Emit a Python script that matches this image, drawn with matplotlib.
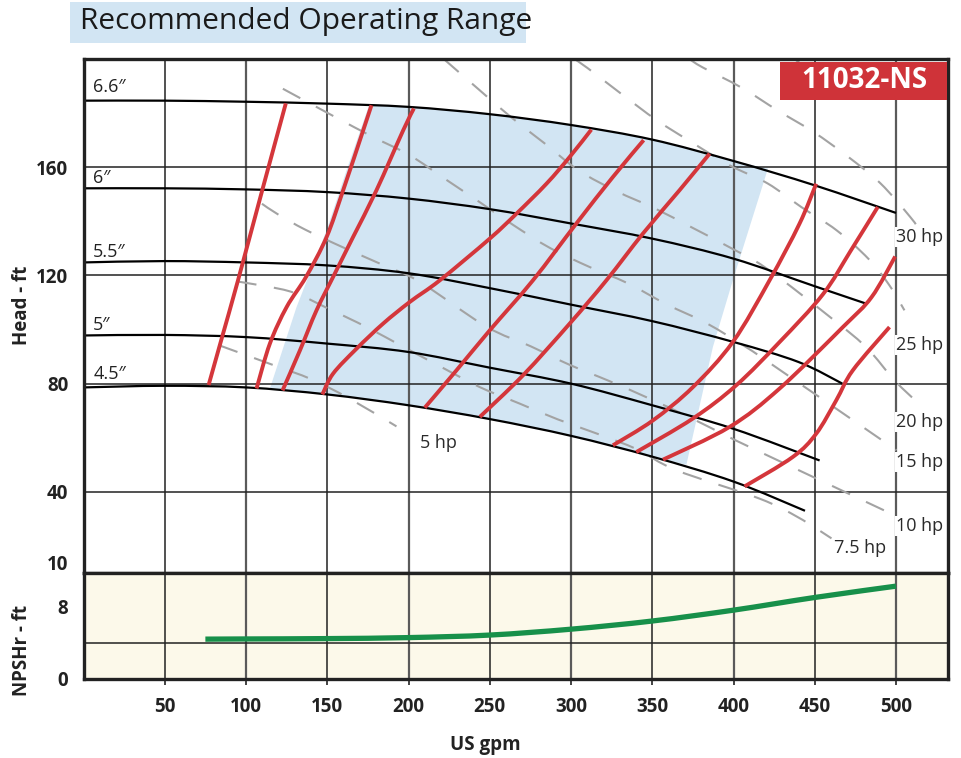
import numpy as np
import matplotlib
matplotlib.use('Agg')
import matplotlib.pyplot as plt
from matplotlib.patches import Rectangle, PathPatch
from matplotlib.path import Path
import matplotlib.transforms as mtransforms

plt.rcParams['font.family'] = ['Open Sans', 'DejaVu Sans']

# ---------------- data ----------------
x_ticks = [50, 100, 150, 200, 250, 300, 350, 400, 450, 500]
head_ticks = [10, 40, 80, 120, 160]
head_grid = [40, 80, 120, 160]
npsh_ticks = [0, 8]
npsh_grid = [4]

# impeller diameter curves (gpm, ft)
d66_q = [0, 50, 100, 150, 200, 250, 300, 350, 400, 450, 500]
d66_h = [184.6, 184.6, 184.2, 183.5, 182.3, 179.6, 175.6, 170.2, 162.3, 153.3, 143.1]
d60_q = [0, 50, 100, 150, 200, 250, 300, 350, 400, 450, 481]
d60_h = [152.2, 152.2, 151.8, 150.8, 148.4, 144.5, 139.2, 133.6, 126.2, 116.0, 109.7]
d55_q = [0, 50, 100, 150, 200, 250, 300, 350, 400, 440, 467]
d55_h = [124.8, 125.3, 124.8, 123.7, 120.8, 115.3, 109.2, 103.1, 95.4, 88.0, 80.0]
d50_q = [0, 50, 100, 150, 200, 250, 300, 350, 400, 453]
d50_h = [97.8, 98.0, 97.2, 94.8, 91.7, 85.9, 80.0, 72.0, 63.3, 51.6]
d45_q = [0, 50, 100, 150, 200, 250, 300, 350, 400, 444]
d45_h = [78.6, 79.2, 78.6, 76.0, 72.0, 66.9, 60.7, 53.0, 43.8, 33.0]
diam_labels = ['6.6\u2033', '6\u2033', '5.5\u2033', '5\u2033', '4.5\u2033']
diam_label_h = [189.5, 156.0, 128.8, 101.5, 83.4]

# red curves
r1_q = [77, 85, 95, 110, 124.5]
r1_h = [79.5, 96.6, 118, 151.5, 183.6]
r2_q = [106.5, 114.7, 125, 137, 149.6, 159.8, 172.1, 177.2]
r2_h = [78.2, 94.8, 108.3, 119.5, 134.2, 151.5, 173.6, 182.9]
r3_q = [122.5, 133.2, 143.4, 154.5, 165.9, 180.3, 196.7, 203.3]
r3_h = [77.5, 92.3, 107.1, 120.5, 134.2, 151.5, 173.6, 181.7]
r4_q = [147, 153.6, 168, 184.4, 200.8, 219.3, 250, 266.4, 284.9, 299.2, 312.5]
r4_h = [76, 83.7, 92.9, 102.2, 110.2, 118.2, 133.6, 142.8, 153.9, 163.8, 173.9]
r5_q = [210, 229.5, 250, 276.6, 303.3, 325.8, 344.7]
r5_h = [71.1, 84.9, 99.7, 118.2, 139.2, 156.4, 170]
r6_q = [243.9, 270.5, 299.2, 321.8, 344.3, 366.8, 385.3]
r6_h = [67.7, 83.1, 102.2, 118.2, 135.5, 151.5, 165]
r7_q = [325.8, 350.4, 375, 399.6, 422.2, 440.6, 450.9]
r7_h = [57.2, 66.4, 78.7, 95.4, 118.2, 139.1, 153.9]
r8_q = [340.2, 375, 401.7, 428.4, 455, 472, 488.8]
r8_h = [54.7, 67.1, 79.4, 95.4, 113, 129, 145.3]
r9_q = [356.6, 397.6, 428.4, 467.3, 485, 499.5]
r9_h = [51.9, 64, 78.2, 100.9, 112, 127]
r10_q = [406.8, 436.5, 450.9, 463.2, 473.4, 496]
r10_h = [42, 52.9, 61.5, 73.8, 84.9, 100.9]

# power lines (dashed)
hp5_q = [83.3, 115.7, 140.3, 163.3, 192.6]
hp5_h = [94.2, 87.1, 81.6, 74.6, 64.2]
hp75_q = [94.4, 127, 150.4, 174.2, 197.1, 220.3, 243.9, 268.5, 291.8, 317, 340.7, 364.8, 416, 440, 460.3]
hp75_h = [117.8, 114.1, 107.8, 100.9, 93.5, 86.1, 78.7, 72.6, 66.8, 61.3, 55.7, 48, 37.5, 30.5, 22.8]
hp10_q = [109.8, 119.6, 136.2, 159.6, 183.4, 207, 247.5, 275.2, 298.6, 323.8, 347.8, 371.8, 395.1, 417.9, 500.3]
hp10_h = [146.5, 142.6, 137, 130.4, 124.1, 117.6, 101.2, 93.8, 87.1, 80.9, 74.6, 67.9, 60.9, 54.3, 31]
hp15_q = [122.7, 154.1, 178.1, 200.8, 222.9, 244.5, 264.8, 287.5, 311.5, 334.9, 358.9, 383.5, 408, 425.3, 500.3]
hp15_h = [189, 178.8, 171.2, 164.4, 155.5, 146.8, 138.5, 130, 123.1, 117.1, 109.3, 102.3, 93.4, 86.4, 55.4]
hp20_q = [221.7, 243.9, 263.5, 283.8, 304.7, 328.1, 351.5, 374.8, 398.2, 420.3, 462.8, 482.4, 499.1, 513.8]
hp20_h = [200, 188.4, 178.3, 168.8, 158.8, 151.1, 144.8, 137.6, 130.2, 122.6, 103, 93, 81.2, 72.7]
hp25_q = [302.3, 310.3, 331.2, 352.7, 374.8, 397.6, 421, 441.9, 463.4, 483.1, 496, 505.2]
hp25_h = [199.9, 196.6, 187, 177.4, 169, 160.7, 154, 145.2, 136.7, 126.1, 116.3, 107.1]
hp30_q = [373, 381, 405, 427.1, 449.3, 470.2, 490.5, 508.9, 514.5]
hp30_h = [199.9, 196.9, 189.4, 181, 173, 164, 154, 141.5, 136.7]
hp40_q = [437.5, 459, 470]
hp40_h = [200, 190.3, 185]
hp_labels = ['30 hp', '25 hp', '20 hp', '15 hp', '10 hp', '7.5 hp', '5 hp']
hp_label_q = [500, 500, 500, 500, 500, 462, 207]
hp_label_h = [134.2, 94.2, 65.7, 50.9, 27.3, 19.1, 58.0]

# recommended operating range edges
range_left_q = [114.7, 131.1, 149.6, 161.9, 176.0]
range_left_h = [78.2, 108.3, 136.7, 158.9, 183.4]
range_right_q = [421.2, 399.6, 387.3, 371.0]
range_right_h = [159.5, 118.2, 93.5, 50.0]

# NPSHr
npsh_q = [75, 100, 150, 200, 250, 300, 350, 400, 450, 500]
npsh_h = [4.4, 4.42, 4.46, 4.57, 4.85, 5.5, 6.4, 7.6, 9.0, 10.25]

model = '11032-NS'

# ---------------- figure ----------------
W, H = 961, 758
fig = plt.figure(figsize=(W / 100, H / 100), dpi=100)


def fx(px):
    return px / W


def fy(py):
    return 1 - py / H


def smooth_path(q, h):
    """Catmull-Rom curve through the given points, as a cubic Bezier Path."""
    p = np.column_stack([q, h]).astype(float)
    n = len(p)
    verts = [p[0]]
    codes = [Path.MOVETO]
    for i in range(n - 1):
        p0 = p[i - 1] if i > 0 else p[i]
        p1 = p[i]
        p2 = p[i + 1]
        p3 = p[i + 2] if i + 2 < n else p[i + 1]
        c1 = p1 + (p2 - p0) / 6.0
        c2 = p2 - (p3 - p1) / 6.0
        verts += [c1, c2, p2]
        codes += [Path.CURVE4] * 3
    return Path(verts, codes)


def draw_curve(a, q, h, **kw):
    patch = PathPatch(smooth_path(q, h), fill=False, **kw)
    a.add_patch(patch)
    return patch


ax = fig.add_axes([fx(83.5), fy(573), fx(948) - fx(83.5), fy(59) - fy(573)])
axb = fig.add_axes([fx(83.5), fy(679), fx(948) - fx(83.5), fy(573) - fy(679)])

XMAX = 532
ax.set_xlim(0, XMAX)
ax.set_ylim(10, 200)
axb.set_xlim(0, XMAX)
axb.set_ylim(0, 11.7)
axb.set_facecolor('#fcf9ea')

grid_dark = '#222222'
for a in (ax, axb):
    for xv in x_ticks:
        if xv % 100 == 0:
            a.axvline(xv, color='#5a5a5a', lw=1.6, zorder=1)
        else:
            a.axvline(xv, color=grid_dark, lw=1.1, zorder=1)
    for s in a.spines.values():
        s.set_linewidth(2.4)
        s.set_color('#222222')
        s.set_zorder(10)
for yv in head_grid:
    ax.axhline(yv, color=grid_dark, lw=1.1, zorder=1)
for yv in npsh_grid:
    axb.axhline(yv, color=grid_dark, lw=1.1, zorder=1)

# operating range fill
top_sel = [(q, h) for q, h in zip(d66_q, d66_h) if range_left_q[-1] < q < range_right_q[0]]
bot_sel = [(q, h) for q, h in zip(d45_q, d45_h) if range_left_q[0] < q < range_right_q[-1]]
poly_q = list(range_left_q) + [q for q, _ in top_sel] + list(range_right_q) + [q for q, _ in bot_sel[::-1]]
poly_h = list(range_left_h) + [h for _, h in top_sel] + list(range_right_h) + [h for _, h in bot_sel[::-1]]
ax.fill(poly_q, poly_h, color='#d2e5f3', lw=0, zorder=0.5)

# dashed power lines
for q, h in [(hp5_q, hp5_h), (hp75_q, hp75_h), (hp10_q, hp10_h), (hp15_q, hp15_h),
             (hp20_q, hp20_h), (hp25_q, hp25_h), (hp30_q, hp30_h), (hp40_q, hp40_h)]:
    draw_curve(ax, q, h, edgecolor='#a3a3a3', lw=1.5, linestyle=(0, (9.5, 8.5)),
               zorder=2, capstyle='butt')

# impeller curves
for q, h in [(d66_q, d66_h), (d60_q, d60_h), (d55_q, d55_h), (d50_q, d50_h), (d45_q, d45_h)]:
    draw_curve(ax, q, h, edgecolor='black', lw=1.6, zorder=3)
for lab, hv in zip(diam_labels, diam_label_h):
    ax.text(6, hv, lab, fontsize=13, color='#222222', ha='left', va='center', zorder=5)

# red curves
red = '#d4363b'
for q, h in [(r1_q, r1_h), (r2_q, r2_h), (r3_q, r3_h), (r4_q, r4_h), (r5_q, r5_h),
             (r6_q, r6_h), (r7_q, r7_h), (r8_q, r8_h), (r9_q, r9_h), (r10_q, r10_h)]:
    draw_curve(ax, q, h, edgecolor=red, lw=2.8, zorder=4, capstyle='butt')

for lab, q, hv in zip(hp_labels, hp_label_q, hp_label_h):
    ax.text(q, hv, lab, fontsize=13, color='#2a2a2a', ha='left', va='center', zorder=6,
            bbox=dict(facecolor='white', edgecolor='none', pad=0.6))

# model box
ax.add_patch(Rectangle((fx(780), fy(99.5)), fx(946.5) - fx(780), fy(61.5) - fy(99.5),
                       transform=fig.transFigure, facecolor='#cf3339', edgecolor='none', zorder=11))
ax.text(fx(864), fy(81), model, transform=fig.transFigure, ha='center', va='center', fontsize=20,
        fontweight='bold', color='white', zorder=12)

# NPSH
draw_curve(axb, npsh_q, npsh_h, edgecolor='#17904a', lw=3.8, zorder=3, capstyle='butt')

# ticks
ax.set_xticks([])
ax.set_yticks(head_ticks)
ax.set_yticklabels([str(t) for t in head_ticks])
ax.tick_params(axis='y', length=0, pad=11, labelsize=13.5)
for lbl in ax.get_yticklabels():
    lbl.set_fontweight('bold')
    lbl.set_color('#222222')
    if lbl.get_text() == '10':
        lbl.set_transform(lbl.get_transform() + mtransforms.ScaledTranslation(0, 0.11, fig.dpi_scale_trans))

axb.set_yticks(npsh_ticks)
axb.set_yticklabels([str(t) for t in npsh_ticks])
axb.tick_params(axis='y', length=0, pad=11, labelsize=13.5)
axb.set_xticks(x_ticks)
axb.set_xticklabels([str(t) for t in x_ticks])
axb.tick_params(axis='x', length=4, width=1.2, pad=9, labelsize=13.5, direction='out', color='#222222')
for lbl in axb.get_yticklabels() + axb.get_xticklabels():
    lbl.set_fontweight('bold')
    lbl.set_color('#222222')

# axis titles
fig.text(fx(22), fy(305), 'Head - ft', rotation=90, ha='center', va='center', fontsize=13.5,
         fontweight='bold', color='#222222')
fig.text(fx(22), fy(650), 'NPSHr - ft', rotation=90, ha='center', va='center', fontsize=13.5,
         fontweight='bold', color='#222222')
fig.text(fx(485), fy(745), 'US gpm', ha='center', va='center', fontsize=13.5,
         fontweight='bold', color='#222222')

# title
fig.patches.append(Rectangle((fx(70), fy(43)), fx(526) - fx(70), fy(2) - fy(43),
                             transform=fig.transFigure, facecolor='#d2e5f3', edgecolor='none'))
fig.text(fx(80), fy(22), 'Recommended Operating Range', ha='left', va='center', fontsize=21.5,
         color='#1a1a1a')

fig.savefig('out.png', dpi=100)
